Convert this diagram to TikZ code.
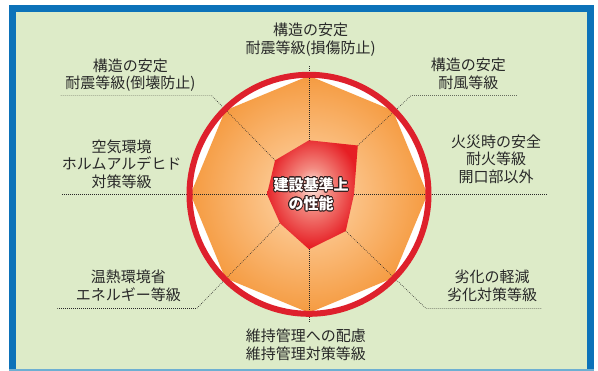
\documentclass[tikz,border=0pt]{standalone}
\usepackage{fontspec}
\setmainfont{Noto Sans CJK JP}
\usepackage[copies]{contour}
\usetikzlibrary{calc}
\definecolor{myblue}{RGB}{12,114,185}
\definecolor{mylightblue}{RGB}{110,175,210}
\definecolor{mygreen}{RGB}{221,235,200}
\definecolor{myred}{RGB}{222,32,44}
\definecolor{mycore}{RGB}{230,30,36}
\definecolor{myorange}{RGB}{242,138,40}
\definecolor{myorangemid}{RGB}{245,155,65}
\definecolor{mypeach}{RGB}{253,218,175}
\definecolor{mypeachmid}{RGB}{250,187,122}
\definecolor{myrose}{RGB}{253,236,228}
\definecolor{myrosemid}{RGB}{243,140,130}
\definecolor{mytext}{RGB}{40,40,40}
\definecolor{mydark}{RGB}{50,30,30}
\pgfdeclareradialshading{octshade}{\pgfpoint{0bp}{0bp}}{color(0bp)=(mypeach); color(12bp)=(mypeachmid); color(25bp)=(myorangemid); color(38bp)=(myorange); color(50bp)=(myorange)}
\pgfdeclareradialshading{coreshade}{\pgfpoint{0bp}{4bp}}{color(0bp)=(myrose); color(9bp)=(myrosemid); color(26bp)=(mycore); color(50bp)=(mycore)}
\contourlength{0.8pt}
\tikzset{>=latex}
\begin{document}
\begin{tikzpicture}[x=1pt,y=1pt,
  lbl/.style={text=mytext, font=\fontsize{15}{17.6}\selectfont, align=center, inner sep=0pt},
  leader/.style={mytext, line width=0.6pt, dash pattern=on 0.7pt off 1.3pt}]
\useasboundingbox (0,0) rectangle (598,371);
\fill[myblue] (9,0) rectangle (594,366);
\fill[mygreen] (16,2) rectangle (587,358.5);
\fill[mylightblue] (9,0) rectangle (594,2);
\coordinate (c) at (309,176.7);
\fill[white] (c) circle (119);
\begin{scope}[shift={(c)}]
\shade[shading=octshade] plot[samples at={0,45,...,315}] (\x:118.5) -- cycle;
\foreach \a/\r [count=\i] in {0/45,45/69,90/54,135/48,180/42,225/41,270/55,315/52}
  \coordinate (p\i) at (\a:\r);
\end{scope}
\coordinate (eR) at (546.7,176.7);
\coordinate (bUR) at (411,275.3);
\coordinate (eUR) at (517,275.3);
\coordinate (eTop) at (309,305);
\coordinate (bUL) at (211.7,275.3);
\coordinate (eUL) at (60,275.3);
\coordinate (eL) at (61.7,176.7);
\coordinate (bLL) at (196.7,62.5);
\coordinate (eLL) at (57.3,62.5);
\coordinate (eB) at (309,49);
\coordinate (bLR) at (426,62.5);
\coordinate (eLR) at (541.7,62.5);
\draw[leader] (p1) -- (eR);
\draw[leader] (p2) -- (bUR) -- (eUR);
\draw[leader] (p3) -- (eTop);
\draw[leader] (p4) -- (bUL) -- (eUL);
\draw[leader] (p5) -- (eL);
\draw[leader] (p6) -- (bLL) -- (eLL);
\draw[leader] (p7) -- (eB);
\draw[leader] (p8) -- (bLR) -- (eLR);
\draw[myred, line width=6pt] (c) circle (119.5);
\shade[shading=coreshade] (p1) -- (p2) -- (p3) -- (p4) -- (p5) -- (p6) -- (p7) -- (p8) -- cycle;
\node[text=white, font=\bfseries\fontsize{15}{19}\selectfont, align=center, inner sep=0pt] (core) at (311,176.5) {\contour{mydark}{建設基準上}\\\contour{mydark}{の性能}};
\node[lbl] (lTop) at (310.7,331.5) {構造の安定\\耐震等級(損傷防止)};
\node[lbl] (lUL) at (130.5,295.7) {構造の安定\\耐震等級(倒壊防止)};
\node[lbl] (lUR) at (468.3,297.4) {構造の安定\\耐風等級};
\node[lbl] (lR) at (496,212) {火災時の安全\\耐火等級\\開口部以外};
\node[lbl] (lL) at (121.7,206.9) {空気環境\\ホルムアルデヒド\\対策等級};
\node[lbl] (lLL) at (128.3,85.2) {温熱環境省\\エネルギー等級};
\node[lbl] (lLR) at (492,85.2) {劣化の軽減\\劣化対策等級};
\node[lbl] (lB) at (305.8,26.3) {維持管理への配慮\\維持管理対策等級};
\end{tikzpicture}
\end{document}
